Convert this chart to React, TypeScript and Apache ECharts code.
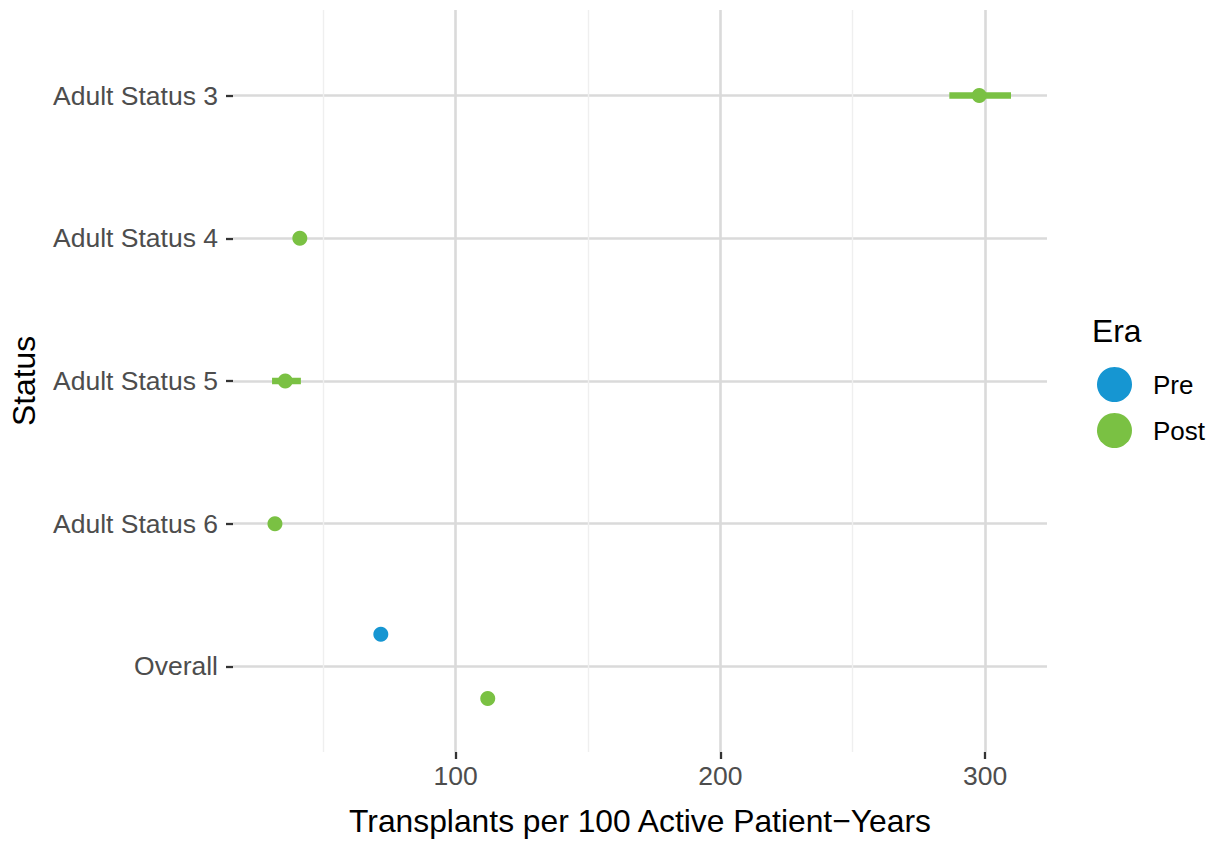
import React, { useEffect, useRef } from "react";
import * as echarts from "echarts";

// ---- Data ----
const categories = ["Adult Status 3", "Adult Status 4", "Adult Status 5", "Adult Status 6", "Overall"];
const eras = ["Pre", "Post"];
const preEstimate: (number | null)[] = [null, null, null, null, 71.7];
const preLow: (number | null)[] = [null, null, null, null, 70.4];
const preHigh: (number | null)[] = [null, null, null, null, 73.0];
const postEstimate: (number | null)[] = [297.8, 41.1, 35.6, 31.7, 112.1];
const postLow: (number | null)[] = [286.5, 39.8, 30.6, 30.6, 110.6];
const postHigh: (number | null)[] = [309.8, 42.5, 41.5, 32.9, 113.6];
const xTicks = [100, 200, 300];
const eraColors = ["#1696d2", "#7ac143"];

const FONT = "'Liberation Sans', Arial, Helvetica, sans-serif";
const DODGE = 0.225;

function dodgeOffset(i: number, era: number): number {
  const both = preEstimate[i] != null && postEstimate[i] != null;
  if (!both) return 0;
  return era === 0 ? -DODGE : DODGE;
}

function pointData(est: (number | null)[], era: number) {
  const out: number[][] = [];
  est.forEach((v, i) => {
    if (v != null) out.push([v, i + dodgeOffset(i, era)]);
  });
  return out;
}

function barData(lo: (number | null)[], hi: (number | null)[], era: number) {
  const out: number[][] = [];
  lo.forEach((v, i) => {
    const h = hi[i];
    if (v != null && h != null) out.push([v, h, i + dodgeOffset(i, era)]);
  });
  return out;
}

export default function App() {
  const ref = useRef<HTMLDivElement>(null);
  useEffect(() => {
    if (!ref.current) return;
    const chart = echarts.init(ref.current, undefined, { renderer: "svg" });

    const errorSeries = (era: number, lo: (number | null)[], hi: (number | null)[]) => ({
      type: "custom",
      name: eras[era] + " interval",
      z: 1,
      clip: false,
      data: barData(lo, hi, era),
      encode: { x: [0, 1], y: 2 },
      renderItem: (params: any, api: any) => {
        const a = api.coord([api.value(0), api.value(2)]);
        const b = api.coord([api.value(1), api.value(2)]);
        return {
          type: "line",
          shape: { x1: a[0], y1: a[1], x2: b[0], y2: b[1] },
          style: { stroke: eraColors[era], lineWidth: 6.5 },
        };
      },
    });

    const pointSeries = (era: number, est: (number | null)[]) => ({
      type: "scatter",
      name: eras[era],
      z: 2,
      symbol: "circle",
      symbolSize: 15,
      itemStyle: { color: eraColors[era], opacity: 1 },
      data: pointData(est, era),
    });

    const catIdx = categories.map((_, i) => i);

    chart.setOption({
      animation: false,
      backgroundColor: "#ffffff",
      textStyle: { fontFamily: FONT },
      grid: { left: 232, right: 167, top: 10, bottom: 89, containLabel: false },
      xAxis: {
        type: "value",
        min: 15.85,
        max: 323.4,
        splitNumber: 3,
        name: "Transplants per 100 Active Patient\u2212Years",
        nameLocation: "middle",
        nameGap: 53,
        nameTextStyle: { fontSize: 31.8, color: "#000000", fontFamily: FONT },
        axisLine: { show: false, onZero: false },
        axisTick: {
          show: true,
          length: 7,
          customValues: xTicks,
          lineStyle: { color: "#333333", width: 2.3 },
        },
        axisLabel: {
          show: true,
          customValues: xTicks,
          margin: 10,
          fontSize: 26.5,
          color: "#4d4d4d",
          fontFamily: FONT,
          formatter: (v: number) => {
            const r = Math.round(v);
            return Math.abs(v - r) < 1e-6 && xTicks.indexOf(r) >= 0 ? String(r) : "";
          },
        },
        splitLine: {
          show: true,
          lineStyle: { color: "#dadada", width: 2.6 },
        },
        minorTick: { show: false, splitNumber: 2 },
        minorSplitLine: { show: true, lineStyle: { color: "#efefef", width: 1.4 } },
      },
      yAxis: {
        type: "value",
        inverse: true,
        min: -0.6,
        max: 4.6,
        splitNumber: 5,
        name: "Status",
        nameLocation: "middle",
        nameGap: 193,
        nameTextStyle: { fontSize: 31.8, color: "#000000", fontFamily: FONT },
        axisLine: { show: false, onZero: false },
        axisTick: {
          show: true,
          length: 7,
          customValues: catIdx,
          lineStyle: { color: "#333333", width: 2.3 },
        },
        axisLabel: {
          show: true,
          customValues: catIdx,
          margin: 15,
          fontSize: 26.5,
          color: "#4d4d4d",
          fontFamily: FONT,
          formatter: (v: number) => {
            const r = Math.round(v);
            return Math.abs(v - r) < 1e-6 && categories[r] ? categories[r] : "";
          },
        },
        splitLine: {
          show: true,
          lineStyle: { color: "#dadada", width: 2.6 },
        },
      },
      legend: {
        show: true,
        data: eras,
        orient: "vertical",
        left: 1092,
        top: 362,
        icon: "circle",
        itemWidth: 35,
        itemHeight: 35,
        itemGap: 11,
        selectedMode: false,
        textStyle: { fontSize: 26, color: "#000000", fontFamily: FONT, padding: [0, 0, 0, 16] },
      },
      graphic: [
        {
          type: "text",
          left: 1092,
          top: 315,
          style: { text: "Era", fontSize: 31.8, fill: "#000000", fontFamily: FONT },
        },
      ],
      series: [
        pointSeries(0, preEstimate),
        pointSeries(1, postEstimate),
        errorSeries(0, preLow, preHigh),
        errorSeries(1, postLow, postHigh),
      ],
    });

    return () => chart.dispose();
  }, []);

  return (
    <div
      ref={ref}
      style={{ position: "fixed", left: 0, top: 0, width: 1214, height: 842, background: "#ffffff" }}
    />
  );
}
